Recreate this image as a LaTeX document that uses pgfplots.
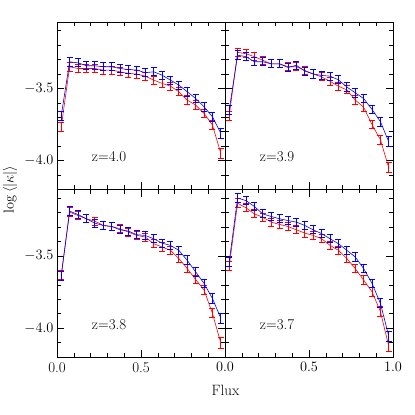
\documentclass[border=0pt]{standalone}
\usepackage{pgfplots}
\pgfplotsset{compat=1.18}
\usepackage{pgfplotstable}

% columns: flux bin, blue, red, error
\pgfplotstableread{
x b r e
0.025 -3.691 -3.769 0.030
0.075 -3.316 -3.350 0.030
0.125 -3.323 -3.362 0.028
0.175 -3.343 -3.362 0.028
0.225 -3.343 -3.362 0.028
0.275 -3.350 -3.373 0.028
0.325 -3.350 -3.373 0.028
0.375 -3.362 -3.385 0.028
0.425 -3.369 -3.396 0.028
0.475 -3.373 -3.401 0.028
0.525 -3.391 -3.415 0.028
0.575 -3.385 -3.442 0.028
0.625 -3.408 -3.465 0.028
0.675 -3.442 -3.484 0.028
0.725 -3.477 -3.523 0.028
0.775 -3.523 -3.581 0.030
0.825 -3.569 -3.615 0.030
0.875 -3.627 -3.673 0.030
0.925 -3.696 -3.753 0.032
0.975 -3.811 -3.949 0.035
}\zfour
\pgfplotstableread{
x b r e
0.025 -3.650 -3.690 0.030
0.075 -3.270 -3.250 0.030
0.125 -3.280 -3.260 0.028
0.175 -3.315 -3.280 0.028
0.225 -3.315 -3.305 0.028
0.275 -3.330 -3.330 0.028
0.325 -3.330 -3.330 0.028
0.375 -3.355 -3.350 0.028
0.425 -3.340 -3.350 0.028
0.475 -3.380 -3.375 0.028
0.525 -3.400 -3.400 0.028
0.575 -3.410 -3.420 0.028
0.625 -3.415 -3.450 0.028
0.675 -3.440 -3.485 0.028
0.725 -3.490 -3.510 0.028
0.775 -3.530 -3.580 0.030
0.825 -3.570 -3.630 0.030
0.875 -3.645 -3.750 0.030
0.925 -3.730 -3.855 0.032
0.975 -3.870 -4.050 0.035
}\zthreenine
\pgfplotstableread{
x b r e
0.025 -3.640 -3.633 0.030
0.075 -3.190 -3.197 0.030
0.125 -3.213 -3.220 0.028
0.175 -3.243 -3.243 0.028
0.225 -3.273 -3.259 0.028
0.275 -3.289 -3.289 0.028
0.325 -3.296 -3.296 0.028
0.375 -3.319 -3.312 0.028
0.425 -3.328 -3.335 0.028
0.475 -3.353 -3.358 0.028
0.525 -3.358 -3.369 0.028
0.575 -3.381 -3.415 0.028
0.625 -3.411 -3.438 0.028
0.675 -3.427 -3.461 0.028
0.725 -3.461 -3.518 0.028
0.775 -3.530 -3.587 0.030
0.825 -3.610 -3.663 0.030
0.875 -3.690 -3.736 0.030
0.925 -3.794 -3.897 0.032
0.975 -3.931 -4.103 0.035
}\zthreeeight
\pgfplotstableread{
x b r e
0.025 -3.541 -3.571 0.030
0.075 -3.099 -3.135 0.030
0.125 -3.117 -3.167 0.028
0.175 -3.158 -3.209 0.028
0.225 -3.209 -3.232 0.028
0.275 -3.227 -3.266 0.028
0.325 -3.243 -3.282 0.028
0.375 -3.255 -3.296 0.028
0.425 -3.266 -3.319 0.028
0.475 -3.289 -3.342 0.028
0.525 -3.319 -3.358 0.028
0.575 -3.346 -3.381 0.028
0.625 -3.381 -3.427 0.028
0.675 -3.415 -3.461 0.028
0.725 -3.461 -3.518 0.028
0.775 -3.507 -3.587 0.030
0.825 -3.587 -3.667 0.030
0.875 -3.690 -3.748 0.030
0.925 -3.828 -3.885 0.032
0.975 -4.057 -4.126 0.035
}\zthreeseven

\pgfplotsset{
  panel/.style={
    scale only axis, width=168bp, height=167.5bp,
    xmin=0, xmax=1, ymin=-4.2, ymax=-3.04,
    xtick={0,0.5,1}, minor xtick={0.1,0.2,0.3,0.4,0.6,0.7,0.8,0.9},
    ytick={-4,-3.5}, minor ytick={-4.1,-3.9,-3.8,-3.7,-3.6,-3.4,-3.3,-3.2,-3.1},
    tick align=inside, major tick length=7bp, minor tick length=4bp,
    every tick/.style={black, line width=0.6pt},
    axis line style={line width=0.8pt},
    tick label style={font=\fontsize{15}{17}\selectfont},
    xticklabel style={yshift=-2bp},
    /pgf/number format/.cd, fixed, fixed zerofill, precision=1,
  },
  bl/.style={blue, line width=0.6pt, mark=none,
    error bars/.cd, y dir=both, y explicit,
    error bar style={line width=0.9pt, blue},
    error mark options={rotate=90, line width=0.9pt, blue, mark size=3bp}},
  rd/.style={red, line width=0.6pt, mark=none,
    error bars/.cd, y dir=both, y explicit,
    error bar style={line width=0.9pt, red},
    error mark options={rotate=90, line width=0.9pt, red, mark size=3bp}},
}

\begin{document}
\begin{tikzpicture}
\useasboundingbox (-57bp,-58bp) rectangle (358bp,357bp);

% top left
\begin{axis}[panel, at={(0bp,167.5bp)}, xticklabels={}]
  \addplot[rd] table[x=x, y=r, y error=e] {\zfour};
  \addplot[bl] table[x=x, y=b, y error=e] {\zfour};
  \node[font=\fontsize{15}{17}\selectfont] at (axis cs:0.31,-3.975) {z=4.0};
\end{axis}

% top right
\begin{axis}[panel, at={(168bp,167.5bp)}, xticklabels={}, yticklabels={}]
  \addplot[rd] table[x=x, y=r, y error=e] {\zthreenine};
  \addplot[bl] table[x=x, y=b, y error=e] {\zthreenine};
  \node[font=\fontsize{15}{17}\selectfont] at (axis cs:0.31,-3.975) {z=3.9};
\end{axis}

% bottom left
\begin{axis}[panel, at={(0bp,0bp)}, xticklabels={0.0,0.5,{}}]
  \addplot[rd] table[x=x, y=r, y error=e] {\zthreeeight};
  \addplot[bl] table[x=x, y=b, y error=e] {\zthreeeight};
  \node[font=\fontsize{15}{17}\selectfont] at (axis cs:0.31,-3.975) {z=3.8};
\end{axis}

% bottom right
\begin{axis}[panel, at={(168bp,0bp)}, yticklabels={}]
  \addplot[rd] table[x=x, y=r, y error=e] {\zthreeseven};
  \addplot[bl] table[x=x, y=b, y error=e] {\zthreeseven};
  \node[font=\fontsize{15}{17}\selectfont] at (axis cs:0.31,-3.975) {z=3.7};
\end{axis}

\node[rotate=90, font=\fontsize{15}{17}\selectfont] at (-47bp,167.5bp) {$\log\,\langle|\kappa|\rangle$};
\node[font=\fontsize{15}{17}\selectfont] at (168.5bp,-33bp) {Flux};
\end{tikzpicture}
\end{document}
